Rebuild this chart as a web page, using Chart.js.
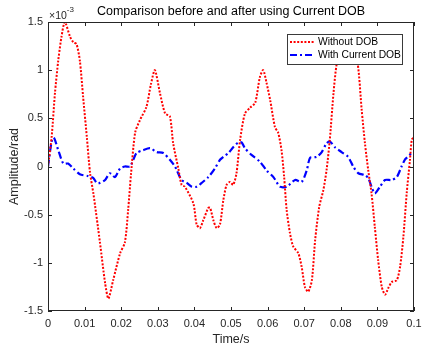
<!DOCTYPE html>
<html>
<head>
<meta charset="utf-8">
<script src="https://cdn.jsdelivr.net/npm/chart.js@4.4.1/dist/chart.umd.min.js"></script>
<style>
  html, body { margin: 0; padding: 0; background: #fff; }
</style>
</head>
<body>
<canvas id="chart" width="422" height="349"></canvas>
<script>
// values are in units of 1e-3 rad
const timeWithout = [0, 0.001, 0.0019, 0.0028, 0.0037, 0.0046, 0.006, 0.0069, 0.0078, 0.0087, 0.0096, 0.0106, 0.0115, 0.0124, 0.0142, 0.0156, 0.0165, 0.0178, 0.0197, 0.021, 0.0219, 0.0227, 0.0238, 0.0251, 0.0269, 0.0281, 0.0292, 0.0306, 0.032, 0.0333, 0.0342, 0.0356, 0.0365, 0.0374, 0.0397, 0.0406, 0.0415, 0.0424, 0.0438, 0.0443, 0.0452, 0.0461, 0.047, 0.0479, 0.0488, 0.0497, 0.0506, 0.0515, 0.0525, 0.0538, 0.0552, 0.0566, 0.0579, 0.0588, 0.0597, 0.0607, 0.062, 0.0629, 0.0638, 0.0645, 0.0652, 0.0661, 0.067, 0.0684, 0.0693, 0.0702, 0.0711, 0.0721, 0.073, 0.0741, 0.0752, 0.0761, 0.077, 0.078, 0.0789, 0.0805, 0.0815, 0.083, 0.0846, 0.0857, 0.0866, 0.0875, 0.0884, 0.0893, 0.0902, 0.0912, 0.0921, 0.093, 0.0939, 0.0953, 0.0962, 0.0971, 0.098, 0.0989, 0.0994, 0.1];
const ampWithout = [0, 0.31, 0.76, 1.1, 1.35, 1.5, 1.35, 1.29, 1.27, 1.1, 0.72, 0.31, -0.07, -0.28, -0.79, -1.21, -1.37, -1.18, -0.9, -0.79, -0.45, -0.07, 0.35, 0.48, 0.62, 0.85, 1.0, 0.76, 0.55, 0.52, 0.24, -0.02, -0.19, -0.21, -0.38, -0.6, -0.64, -0.56, -0.43, -0.43, -0.56, -0.64, -0.6, -0.35, -0.19, -0.16, -0.19, -0.07, 0.28, 0.55, 0.61, 0.66, 0.93, 1.0, 0.87, 0.69, 0.41, 0.35, 0.17, -0.1, -0.45, -0.69, -0.83, -0.9, -1.04, -1.25, -1.3, -1.18, -0.76, -0.42, -0.25, -0.04, 0.28, 0.76, 1.07, 1.3, 1.33, 1.25, 1.07, 0.59, 0.24, -0.04, -0.28, -0.63, -0.97, -1.25, -1.33, -1.26, -1.2, -1.18, -1.04, -0.73, -0.28, 0.07, 0.28, 0.3];

const timeWith = [0, 0.001, 0.0016, 0.0028, 0.0042, 0.0055, 0.0069, 0.0087, 0.011, 0.0124, 0.0133, 0.0142, 0.0156, 0.0169, 0.0183, 0.0197, 0.021, 0.0224, 0.0233, 0.0242, 0.026, 0.0279, 0.0297, 0.0315, 0.0333, 0.0347, 0.0352, 0.0365, 0.0379, 0.0393, 0.0406, 0.042, 0.0438, 0.0456, 0.047, 0.0479, 0.0493, 0.0506, 0.052, 0.0529, 0.0538, 0.0556, 0.0579, 0.0597, 0.0616, 0.0634, 0.0652, 0.0675, 0.0693, 0.0707, 0.0716, 0.0734, 0.0748, 0.0761, 0.077, 0.0784, 0.0802, 0.082, 0.0834, 0.0848, 0.0866, 0.0875, 0.0884, 0.0893, 0.0907, 0.0921, 0.0939, 0.0953, 0.0966, 0.0975, 0.098, 0.0994, 0.1];
const ampWith = [0, 0.26, 0.3, 0.17, 0.03, 0.03, -0.02, -0.08, -0.1, -0.12, -0.17, -0.17, -0.14, -0.07, -0.11, -0.02, 0, 0, 0.07, 0.14, 0.17, 0.19, 0.15, 0.14, 0.07, 0, -0.04, -0.14, -0.17, -0.21, -0.21, -0.17, -0.11, -0.02, 0.07, 0.1, 0.14, 0.2, 0.25, 0.25, 0.19, 0.12, 0.05, -0.04, -0.11, -0.21, -0.21, -0.14, -0.16, -0.04, 0.09, 0.1, 0.15, 0.24, 0.26, 0.2, 0.15, 0.1, 0, -0.07, -0.09, -0.12, -0.21, -0.28, -0.21, -0.14, -0.14, -0.11, 0, 0.07, 0.09, 0.14, 0.14];

const seriesNames = ['Without DOB', 'With Current DOB'];
const xRange = [0, 0.1];
const yRange = [-1.5, 1.5];

const axisColor = '#262626';
const fontFamily = '"Liberation Sans", Arial, sans-serif';
Chart.defaults.font.family = fontFamily;
Chart.defaults.color = axisColor;

const toPoints = (xs, ys) => xs.map((x, i) => ({ x: x, y: ys[i] }));

// MATLAB-style box with inward tick marks, title and exponent
const axesBox = {
  id: 'axesBox',
  afterDraw(chart) {
    const { ctx, chartArea: a, scales } = chart;
    ctx.save();
    ctx.strokeStyle = axisColor;
    ctx.lineWidth = 1;
    ctx.strokeRect(a.left + 0.5, a.top + 0.5, a.right - a.left - 1, a.bottom - a.top - 1);
    ctx.beginPath();
    scales.x.ticks.forEach(t => {
      const px = Math.round(scales.x.getPixelForValue(t.value)) + 0.5;
      ctx.moveTo(px, a.bottom); ctx.lineTo(px, a.bottom - 4);
      ctx.moveTo(px, a.top); ctx.lineTo(px, a.top + 4);
    });
    scales.y.ticks.forEach(t => {
      const py = Math.round(scales.y.getPixelForValue(t.value)) + 0.5;
      ctx.moveTo(a.left, py); ctx.lineTo(a.left + 4, py);
      ctx.moveTo(a.right, py); ctx.lineTo(a.right - 4, py);
    });
    ctx.stroke();

    ctx.fillStyle = '#000';
    ctx.textAlign = 'center';
    ctx.textBaseline = 'middle';
    ctx.font = '12.5px ' + fontFamily;
    ctx.fillText('Comparison before and after using Current DOB', (a.left + a.right) / 2, 12);

    ctx.fillStyle = axisColor;
    ctx.textAlign = 'left';
    ctx.textBaseline = 'alphabetic';
    ctx.font = '10.5px ' + fontFamily;
    ctx.fillText('\u00d710', a.left + 1, 18.5);
    const w = ctx.measureText('\u00d710').width;
    ctx.font = '8px ' + fontFamily;
    ctx.fillText('-3', a.left + 1 + w, 12);
    ctx.restore();
  }
};

// legend box drawn inside the axes, over the curves
const boxLegend = {
  id: 'boxLegend',
  afterDatasetsDraw(chart) {
    const { ctx, chartArea: a } = chart;
    const w = 115, h = 30;
    const x0 = a.right - 12 - w, y0 = a.top + 12;
    ctx.save();
    ctx.fillStyle = '#fff';
    ctx.fillRect(x0, y0, w, h);
    ctx.strokeStyle = '#3a3a3a';
    ctx.lineWidth = 1;
    ctx.strokeRect(x0 + 0.5, y0 + 0.5, w, h);
    ctx.font = '10.3px ' + fontFamily;
    ctx.textBaseline = 'middle';
    ctx.textAlign = 'left';
    chart.data.datasets.forEach((ds, i) => {
      const y = y0 + 8 + i * 13;
      ctx.beginPath();
      ctx.setLineDash(ds.borderDash);
      ctx.strokeStyle = ds.borderColor;
      ctx.lineWidth = ds.borderWidth;
      ctx.moveTo(x0 + 3, y);
      ctx.lineTo(x0 + 28, y);
      ctx.stroke();
      ctx.setLineDash([]);
      ctx.fillStyle = '#000';
      ctx.fillText(ds.label, x0 + 31, y + 0.5);
    });
    ctx.restore();
  }
};

new Chart(document.getElementById('chart'), {
  type: 'line',
  data: {
    datasets: [
      {
        label: seriesNames[0],
        data: toPoints(timeWithout, ampWithout),
        borderColor: '#ff0000',
        borderWidth: 2,
        borderDash: [2, 1.6],
        pointRadius: 0,
        tension: 0.25,
        fill: false,
      },
      {
        label: seriesNames[1],
        data: toPoints(timeWith, ampWith),
        borderColor: '#0000ff',
        borderWidth: 2.2,
        borderDash: [7, 3, 2, 3],
        pointRadius: 0,
        tension: 0.25,
        fill: false,
      },
    ],
  },
  options: {
    responsive: false,
    animation: false,
    layout: { padding: { top: 22, right: 8, left: 0, bottom: 0 } },
    plugins: {
      legend: { display: false },
      title: { display: false },
      tooltip: { enabled: false },
    },
    scales: {
      x: {
        type: 'linear',
        min: xRange[0],
        max: xRange[1],
        grid: { display: false, drawTicks: false },
        border: { display: false },
        ticks: {
          stepSize: 0.01,
          autoSkip: false,
          maxRotation: 0,
          padding: 6,
          font: { size: 11 },
          callback: v => String(+v.toFixed(2)),
        },
        title: {
          display: true,
          text: 'Time/s',
          font: { size: 12.5 },
          padding: { top: 0, bottom: 2 },
        },
        afterFit: s => { s.height = 38; s.paddingLeft = 0; s.paddingRight = 0; },
      },
      y: {
        min: yRange[0],
        max: yRange[1],
        grid: { display: false, drawTicks: false },
        border: { display: false },
        ticks: {
          stepSize: 0.5,
          padding: 5,
          font: { size: 11 },
          callback: v => String(+v.toFixed(1)),
        },
        title: {
          display: true,
          text: 'Amplitude/rad',
          font: { size: 12.5 },
          padding: { top: 7, bottom: 0 },
        },
        afterFit: s => { s.width = 48; s.paddingTop = 0; s.paddingBottom = 0; },
      },
    },
  },
  plugins: [boxLegend, axesBox],
});
</script>
</body>
</html>
